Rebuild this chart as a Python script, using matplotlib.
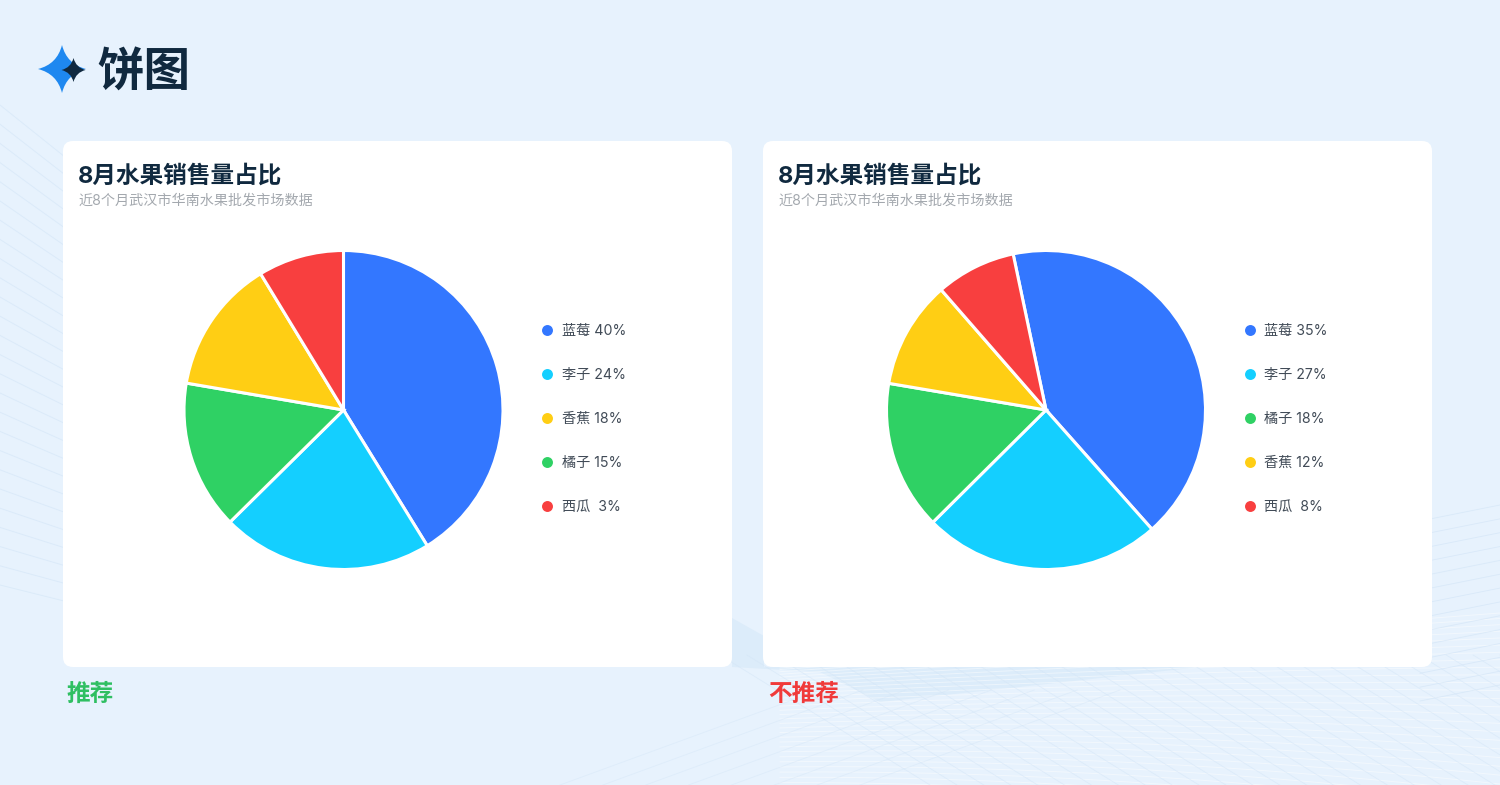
import numpy as np
import matplotlib
matplotlib.use('Agg')
import matplotlib.pyplot as plt
from matplotlib.patches import FancyBboxPatch, PathPatch, Polygon
from matplotlib.path import Path

plt.rcParams['font.family'] = ['Inter', 'Noto Sans CJK SC', 'DejaVu Sans']

# sector sizes as drawn in the picture (they differ from the printed labels)
share_left = [41.2, 21.4, 15.1, 13.6, 8.7]
share_right = [41.7, 24.1, 15.1, 10.9, 8.1]
pie_colors = ['#3377FF', '#14CFFF', '#2FD164', '#FFCE14', '#F83F3F']

# legend rows
legend_left = ['蓝莓 40%', '李子 24%', '香蕉 18%', '橘子 15%', '西瓜  3%']
colors_left = ['#3377FF', '#14CFFF', '#FFCE14', '#2FD164', '#F83F3F']
legend_right = ['蓝莓 35%', '李子 27%', '橘子 18%', '香蕉 12%', '西瓜  8%']
colors_right = ['#3377FF', '#14CFFF', '#2FD164', '#FFCE14', '#F83F3F']

card_title = '8月水果销售量占比'
card_sub = '近8个月武汉市华南水果批发市场数据'

W, H = 1500, 785
fig = plt.figure(figsize=(15, 7.85), dpi=100, facecolor='#E7F2FD')
bg = fig.add_axes([0, 0, 1, 1])
bg.set_xlim(0, W)
bg.set_ylim(H, 0)
bg.axis('off')


def star(ax, cx, cy, rx, ry, color, z):
    # four pointed star with concave sides
    k = 0.2
    verts = [(cx, cy - ry),
             (cx + k * rx, cy - k * ry), (cx + rx, cy),
             (cx + k * rx, cy + k * ry), (cx, cy + ry),
             (cx - k * rx, cy + k * ry), (cx - rx, cy),
             (cx - k * rx, cy - k * ry), (cx, cy - ry), (cx, cy - ry)]
    codes = [Path.MOVETO] + [Path.CURVE3] * 8 + [Path.CLOSEPOLY]
    ax.add_patch(PathPatch(Path(verts, codes), fc=color, ec='none', zorder=z))


###############################
# faint line pattern behind the cards
line_col = '#D3E5F7'
bg.add_patch(Polygon([(732, 618), (764, 636), (764, 667), (1200, 667), (1010, 688), (880, 702), (820, 672), (732, 667)],
                     fc='#DCECFA', ec='none', zorder=0.5))
for i in np.linspace(0, 1, 26):
    y0 = 105 + 480 * i
    slope = 0.8 - 0.55 * i
    bg.plot([0, 70], [y0, y0 + slope * 70], color=line_col, lw=0.7, alpha=0.6, zorder=1)
# bottom mesh, curves running across
xs = np.linspace(780, 1500, 60)
for i in np.linspace(0, 1, 30):
    ys = 668 + 120 * i ** 1.3 + 60 * i * ((xs - 780) / 720) ** 2 - 55 * (1 - i) * (xs - 780) / 720
    bg.plot(xs, ys, color='#FFFFFF', lw=0.7, alpha=0.45, zorder=1)
for i in np.linspace(0, 1, 30):
    x0 = 720 + 780 * i
    bg.plot([x0, x0 + 210], [655, 785], color=line_col, lw=0.6, alpha=0.55, zorder=1)
for i in np.linspace(0, 1, 14):
    y0 = 505 + 180 * i
    bg.plot([1420, 1500], [y0 + 16, y0], color=line_col, lw=0.6, alpha=0.7, zorder=1)
for i in np.linspace(0, 1, 8):
    x0 = 560 + 300 * i
    bg.plot([x0, x0 + 260], [785, 690], color=line_col, lw=0.6, alpha=0.45, zorder=1)

###############################
# page heading
star(bg, 62, 69, 24, 24, '#1E88F0', 3)
star(bg, 73.5, 70, 12, 12, '#10293F', 4)
bg.text(97, 75, '饼图', fontsize=33.5, fontweight='bold', color='#10293F', va='center', ha='left')


def panel(x0, share, start, cx, labels, dots, dot_x, text_x):
    bg.add_patch(FancyBboxPatch((x0, 141), 669, 526, boxstyle='round,pad=0,rounding_size=10',
                                fc='white', ec='none', zorder=5))
    bg.text(x0 + 15, 176, card_title, fontsize=17, fontweight='bold', color='#10293F',
            va='center', ha='left', zorder=6)
    bg.text(x0 + 15, 201, card_sub, fontsize=10.15, color='#A3A8AE', va='center', ha='left', zorder=6)

    # pie in its own axes, radius 159.5 px around (cx, 410)
    r = 159.5
    ax = fig.add_axes([(cx - r) / W, 1 - (410 + r) / H, 2 * r / W, 2 * r / H], zorder=7)
    ax.pie(share, colors=pie_colors, startangle=start, counterclock=False,
           wedgeprops={'edgecolor': 'white', 'linewidth': 2.2, 'clip_on': False})
    ax.set_xlim(-1, 1)
    ax.set_ylim(-1, 1)

    for k, (lab, col) in enumerate(zip(labels, dots)):
        y = 330 + 44 * k
        bg.scatter([dot_x], [y], s=62, color=col, linewidths=0, zorder=6)
        bg.text(text_x, y + 1, lab, fontsize=10.2, color='#414B57', va='center', ha='left', zorder=6)


panel(63, share_left, 90, 343.5, legend_left, colors_left, 547, 562)
panel(763, share_right, 101.9, 1046, legend_right, colors_right, 1250, 1264)

bg.text(66, 694.5, '推荐', fontsize=17, fontweight='bold', color='#2FBF62', va='center', ha='left')
bg.text(768, 694.5, '不推荐', fontsize=17, fontweight='bold', color='#F03A3A', va='center', ha='left')

fig.savefig('out.png', dpi=100, facecolor=fig.get_facecolor())
